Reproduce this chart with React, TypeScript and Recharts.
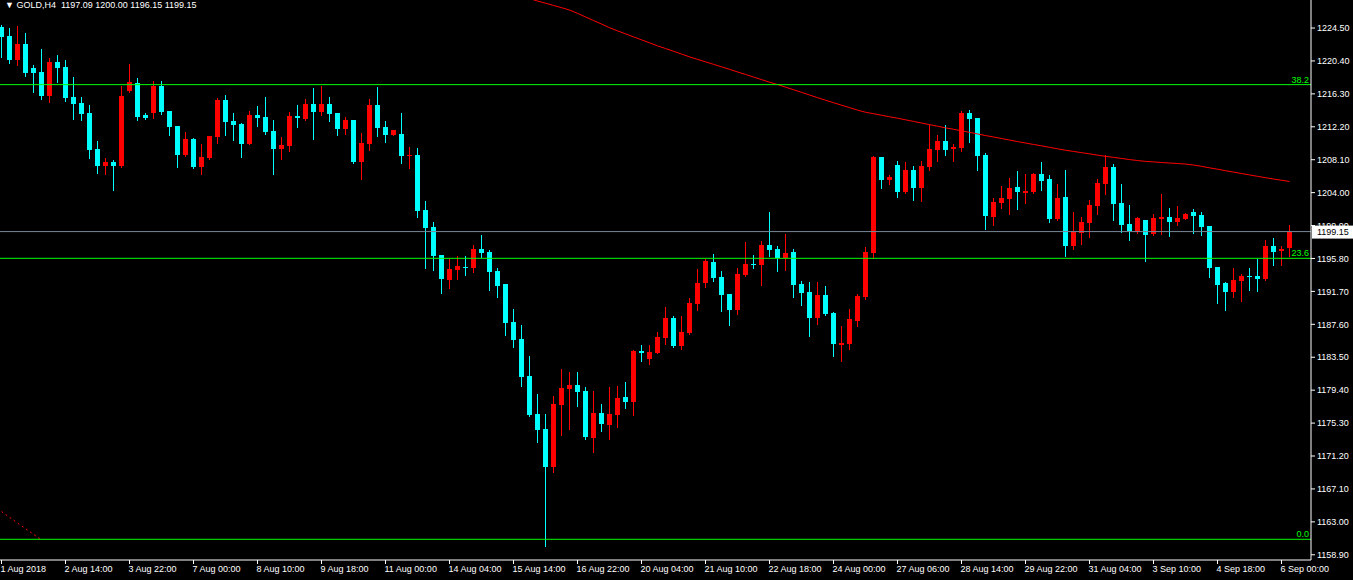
import React from 'react';
import { ComposedChart, Bar, Line, XAxis, YAxis, ReferenceLine } from 'recharts';

// H4 candles, one entry per bar (bar 0 = 1 Aug 2018)
const opens = [
  1224.66, 1223.51, 1220.52, 1222.51, 1219.52, 1219.02, 1216.03, 1220.27, 1219.65, 1215.91,
  1215.16, 1213.92, 1209.43, 1207.35, 1207.81, 1207.35, 1216.70, 1217.65, 1213.67, 1213.95,
  1217.28, 1214.16, 1212.30, 1208.72, 1210.68, 1207.23, 1208.35, 1210.96, 1215.54, 1212.92,
  1212.55, 1210.09, 1213.67, 1213.42, 1211.67, 1209.47, 1209.84, 1213.54, 1213.21, 1215.04,
  1214.08, 1215.04, 1213.92, 1211.96, 1213.05, 1207.85, 1210.09, 1214.91, 1212.17, 1211.21,
  1211.30, 1208.56, 1208.69, 1201.84, 1199.72, 1196.23, 1193.16, 1194.40, 1194.74, 1194.65,
  1196.98, 1196.61, 1194.24, 1192.62, 1187.89, 1185.77, 1181.16, 1176.43, 1174.56, 1169.87,
  1177.59, 1179.58, 1180.04, 1179.30, 1173.48, 1176.56, 1175.10, 1176.35, 1178.55, 1177.96,
  1184.28, 1183.32, 1184.07, 1185.90, 1188.39, 1184.90, 1186.52, 1190.13, 1192.75, 1195.36,
  1193.49, 1191.38, 1189.38, 1193.74, 1195.11, 1194.99, 1197.48, 1196.98, 1195.86, 1196.61,
  1192.62, 1191.62, 1188.39, 1191.25, 1189.01, 1185.06, 1185.15, 1188.01, 1191.00, 1196.52,
  1208.44, 1205.61, 1207.44, 1204.08, 1206.82, 1204.58, 1207.19, 1209.31, 1210.43, 1209.43,
  1209.56, 1213.92, 1213.30, 1208.69, 1201.00, 1202.71, 1203.21, 1204.70, 1203.99, 1204.08,
  1206.32, 1205.70, 1200.71, 1203.45, 1197.35, 1198.97, 1200.22, 1202.34, 1205.11, 1207.19,
  1202.75, 1200.10, 1199.14, 1200.63, 1198.89, 1200.75, 1200.97, 1200.38, 1200.75, 1201.59,
  1201.21, 1199.85, 1194.74, 1192.75, 1191.66, 1193.03, 1193.62, 1193.62, 1193.28, 1197.35,
  1196.69, 1197.09,
];
const highs = [
  1224.88, 1224.50, 1224.75, 1223.88, 1219.89, 1221.89, 1220.77, 1221.14, 1220.52, 1218.40,
  1215.91, 1214.91, 1210.43, 1208.31, 1208.06, 1217.28, 1220.02, 1218.24, 1213.92, 1217.90,
  1217.90, 1214.16, 1212.30, 1211.55, 1210.80, 1210.06, 1211.10, 1215.75, 1216.16, 1213.92,
  1212.67, 1214.16, 1214.79, 1215.91, 1213.04, 1210.93, 1214.04, 1214.91, 1215.66, 1217.03,
  1217.28, 1215.91, 1213.92, 1213.42, 1213.05, 1211.43, 1215.66, 1217.15, 1212.92, 1211.80,
  1213.92, 1209.68, 1209.56, 1202.96, 1200.34, 1196.23, 1195.73, 1196.11, 1196.11, 1197.48,
  1198.72, 1196.85, 1194.61, 1192.62, 1189.51, 1187.51, 1183.65, 1178.92, 1176.43, 1178.67,
  1182.04, 1181.66, 1181.66, 1179.80, 1179.30, 1177.68, 1179.80, 1179.92, 1180.42, 1184.40,
  1185.02, 1185.02, 1186.64, 1189.76, 1188.64, 1188.64, 1190.88, 1194.49, 1195.73, 1196.36,
  1194.24, 1191.38, 1194.61, 1197.85, 1196.23, 1197.98, 1201.59, 1197.35, 1198.85, 1196.98,
  1193.00, 1192.87, 1192.87, 1192.37, 1189.13, 1187.39, 1189.51, 1191.38, 1197.23, 1208.56,
  1208.44, 1206.20, 1207.94, 1207.81, 1207.32, 1207.94, 1212.42, 1211.18, 1212.42, 1210.06,
  1214.16, 1214.29, 1213.30, 1208.94, 1203.33, 1204.83, 1205.82, 1206.69, 1206.32, 1206.44,
  1207.81, 1206.20, 1205.07, 1206.82, 1201.59, 1200.97, 1203.08, 1205.70, 1208.69, 1207.56,
  1205.11, 1202.46, 1200.97, 1200.63, 1201.34, 1203.83, 1202.09, 1202.33, 1201.46, 1201.96,
  1201.59, 1199.85, 1194.74, 1192.87, 1194.61, 1193.87, 1194.61, 1195.77, 1198.10, 1198.35,
  1197.35, 1200.00,
];
const lows = [
  1220.93, 1220.18, 1219.89, 1218.56, 1216.57, 1215.70, 1215.32, 1217.82, 1215.45, 1213.21,
  1213.08, 1208.35, 1206.48, 1206.36, 1204.37, 1207.23, 1216.57, 1213.08, 1213.21, 1213.33,
  1213.83, 1211.21, 1207.23, 1208.60, 1207.10, 1206.36, 1208.22, 1210.22, 1211.21, 1210.59,
  1208.47, 1210.00, 1212.33, 1211.34, 1206.36, 1208.22, 1209.22, 1212.21, 1213.10, 1210.72,
  1213.70, 1212.96, 1211.21, 1211.34, 1207.73, 1205.73, 1209.35, 1211.09, 1210.34, 1211.15,
  1207.73, 1207.10, 1201.00, 1194.65, 1194.40, 1191.54, 1192.16, 1193.28, 1193.78, 1194.15,
  1196.02, 1191.91, 1191.04, 1186.31, 1184.81, 1179.96, 1176.22, 1172.98, 1160.03, 1169.25,
  1173.85, 1174.60, 1177.47, 1173.36, 1171.74, 1174.35, 1173.36, 1174.85, 1177.22, 1176.35,
  1183.07, 1182.70, 1184.00, 1185.15, 1184.78, 1184.53, 1186.39, 1189.38, 1192.25, 1193.03,
  1189.26, 1187.51, 1188.89, 1193.65, 1194.61, 1192.50, 1196.11, 1194.24, 1194.36, 1191.00,
  1190.00, 1186.15, 1187.64, 1188.76, 1183.65, 1183.03, 1184.53, 1187.39, 1190.75, 1195.82,
  1204.58, 1205.11, 1203.49, 1203.95, 1203.12, 1203.00, 1206.82, 1207.94, 1208.69, 1207.94,
  1209.19, 1210.30, 1206.82, 1199.47, 1199.97, 1202.09, 1201.34, 1201.96, 1202.71, 1204.00,
  1204.33, 1200.34, 1200.59, 1196.11, 1196.98, 1197.60, 1198.47, 1201.34, 1203.87, 1200.63,
  1199.13, 1198.14, 1199.01, 1195.52, 1198.76, 1198.89, 1198.64, 1200.01, 1200.70, 1199.01,
  1198.76, 1193.53, 1190.29, 1189.38, 1191.04, 1190.54, 1191.91, 1191.79, 1193.16, 1195.03,
  1195.03, 1196.15,
];
const closes = [
  1223.42, 1220.52, 1222.51, 1218.94, 1218.94, 1216.03, 1220.27, 1219.56, 1215.82, 1215.07,
  1213.83, 1209.35, 1207.35, 1207.81, 1207.35, 1216.03, 1217.78, 1213.46, 1213.33, 1217.28,
  1214.08, 1212.21, 1208.72, 1210.68, 1207.23, 1208.44, 1211.05, 1215.54, 1212.83, 1212.46,
  1210.09, 1213.67, 1213.33, 1211.59, 1209.47, 1209.93, 1213.54, 1213.33, 1215.04, 1214.08,
  1215.04, 1213.83, 1211.96, 1213.05, 1207.85, 1210.18, 1214.91, 1212.08, 1211.21, 1211.80,
  1208.60, 1208.69, 1201.75, 1199.63, 1196.15, 1193.28, 1194.49, 1194.86, 1194.61, 1196.98,
  1196.52, 1194.15, 1192.41, 1187.80, 1185.69, 1181.08, 1176.35, 1174.48, 1169.87, 1177.72,
  1179.71, 1180.04, 1179.21, 1173.61, 1176.56, 1175.22, 1176.43, 1178.42, 1177.96, 1184.28,
  1184.07, 1184.16, 1186.02, 1188.39, 1184.90, 1186.64, 1190.26, 1192.75, 1195.49, 1193.41,
  1191.25, 1189.38, 1193.87, 1195.11, 1195.02, 1197.48, 1196.85, 1195.86, 1196.48, 1192.50,
  1191.50, 1188.39, 1191.25, 1188.89, 1185.15, 1185.27, 1188.26, 1191.13, 1196.61, 1208.44,
  1205.57, 1205.99, 1204.08, 1206.82, 1204.58, 1207.32, 1209.43, 1210.43, 1209.31, 1209.68,
  1213.92, 1213.17, 1208.56, 1201.09, 1202.83, 1203.33, 1204.58, 1204.08, 1204.20, 1206.32,
  1205.45, 1200.71, 1203.33, 1197.35, 1199.10, 1200.34, 1202.46, 1205.20, 1207.19, 1202.62,
  1200.01, 1199.26, 1200.84, 1198.76, 1200.84, 1200.97, 1200.38, 1200.84, 1201.34, 1201.13,
  1199.76, 1194.65, 1192.54, 1191.66, 1193.12, 1193.62, 1193.49, 1193.28, 1197.35, 1196.64,
  1196.98, 1199.15,
];

// moving average, visible from bar 66 onwards
const maFrom = 66;
const maValues = [
  1228.17, 1227.86, 1227.59, 1227.31, 1227.04, 1226.74, 1226.33, 1225.88, 1225.43, 1225.00,
  1224.54, 1224.15, 1223.78, 1223.40, 1223.03, 1222.66, 1222.28, 1221.95, 1221.61, 1221.26,
  1220.91, 1220.60, 1220.29, 1219.98, 1219.67, 1219.36, 1219.03, 1218.72, 1218.40, 1218.08,
  1217.75, 1217.46, 1217.14, 1216.82, 1216.49, 1216.16, 1215.83, 1215.51, 1215.20, 1214.89,
  1214.59, 1214.28, 1214.01, 1213.83, 1213.64, 1213.45, 1213.27, 1213.07, 1212.87, 1212.67,
  1212.47, 1212.27, 1212.07, 1211.89, 1211.70, 1211.51, 1211.31, 1211.11, 1210.93, 1210.74,
  1210.55, 1210.36, 1210.18, 1210.00, 1209.83, 1209.64, 1209.46, 1209.28, 1209.13, 1208.98,
  1208.83, 1208.67, 1208.52, 1208.39, 1208.26, 1208.12, 1208.00, 1207.89, 1207.83, 1207.75,
  1207.69, 1207.63, 1207.56, 1207.44, 1207.28, 1207.09, 1206.92, 1206.73, 1206.56, 1206.38,
  1206.21, 1206.03, 1205.86, 1205.70, 1205.54, 1205.39,
];

// dotted trend segment at the bottom left
const trendValues = [1164.28, 1163.57, 1162.86, 1162.16, 1161.45, 1160.76];

const dateTickBars = [0, 8, 16, 24, 32, 40, 48, 56, 64, 72, 80, 88, 96, 104, 112, 120, 128, 136, 144, 152, 160];
const dateLabels = [
  '1 Aug 2018', '2 Aug 14:00', '3 Aug 22:00', '7 Aug 00:00', '8 Aug 10:00', '9 Aug 18:00',
  '11 Aug 00:00', '14 Aug 04:00', '15 Aug 14:00', '16 Aug 22:00', '20 Aug 04:00', '21 Aug 10:00',
  '22 Aug 18:00', '24 Aug 00:00', '27 Aug 06:00', '28 Aug 14:00', '29 Aug 22:00', '31 Aug 04:00',
  '3 Sep 10:00', '4 Sep 18:00', '6 Sep 00:00',
];

const priceTicks = [
  1224.5, 1220.4, 1216.3, 1212.2, 1208.1, 1204.0, 1199.9, 1195.8, 1191.7,
  1187.6, 1183.5, 1179.4, 1175.3, 1171.2, 1167.1, 1163.0, 1158.9,
];

const fibNames = ['38.2', '23.6', '0.0'];
const fibPrices = [1217.45, 1195.82, 1160.83];
const lastPrice = 1199.15;

const data = opens.map((o, i) => ({
  i,
  o,
  h: highs[i],
  l: lows[i],
  c: closes[i],
  ma: i >= maFrom ? maValues[i - maFrom] : null,
  trend: i < trendValues.length ? trendValues[i] : null,
}));

const FONT = "'Liberation Sans', Arial, sans-serif";
const UP = '#ff0000';
const DOWN = '#00ffff';
const FIB = '#00ff00';

function Candle(props: any) {
  const { x, y, width, height, payload } = props;
  if (x == null || y == null || !payload) return null;
  const { o, h, l, c } = payload;
  const top = Math.min(y, y + height);
  const span = Math.abs(height);
  const toY = (v: number) => (h === l ? top : top + ((h - v) / (h - l)) * span);
  const color = c >= o ? UP : DOWN;
  const cx = Math.floor(x + width / 2) + 0.5;
  const bodyTop = Math.round(toY(Math.max(o, c)));
  const bodyBot = Math.round(toY(Math.min(o, c)));
  return (
    <g>
      <line x1={cx} x2={cx} y1={Math.round(top)} y2={Math.round(top + span) + 1} stroke={color} strokeWidth={1} shapeRendering="crispEdges" />
      <rect x={cx - 2.5} y={bodyTop} width={5} height={Math.max(1, bodyBot - bodyTop)} fill={color} shapeRendering="crispEdges" />
    </g>
  );
}

function DateTick(props: any) {
  const { x, y, payload } = props;
  const k = dateTickBars.indexOf(payload.value);
  return (
    <text x={x - 1} y={y} dy="0.71em" fill="#fff" fontSize={9} fontFamily={FONT} textAnchor="start">
      {dateLabels[k]}
    </text>
  );
}

function PriceTag(props: any) {
  const { viewBox } = props;
  if (!viewBox) return null;
  const right = viewBox.x + viewBox.width;
  return (
    <g>
      <rect x={right + 1} y={viewBox.y - 6} width={42} height={13} fill="#fff" />
      <text x={right + 6} y={viewBox.y} dy="0.35em" fill="#000" fontSize={9} fontFamily={FONT}>
        {lastPrice.toFixed(2)}
      </text>
    </g>
  );
}

export default function App() {
  return (
    <div style={{ position: 'absolute', left: 0, top: 0, width: 1353, height: 580, background: '#000', overflow: 'hidden' }}>
      <ComposedChart width={1353} height={580} data={data} margin={{ top: 0, right: 0, bottom: 0, left: 0 }}>
        <XAxis
          dataKey="i"
          type="number"
          domain={[-0.1875, 163.6875]}
          allowDataOverflow
          ticks={dateTickBars}
          interval={0}
          height={20}
          tickSize={4}
          tickMargin={2}
          axisLine={{ stroke: '#fff' }}
          tickLine={{ stroke: '#fff' }}
          tick={<DateTick />}
        />
        <YAxis
          orientation="right"
          type="number"
          domain={[1158.25, 1227.99]}
          allowDataOverflow
          ticks={priceTicks}
          interval={0}
          width={42}
          tickSize={4}
          tickMargin={2}
          axisLine={{ stroke: '#fff' }}
          tickLine={{ stroke: '#fff' }}
          tick={{ fill: '#fff', fontSize: 9, fontFamily: FONT }}
          tickFormatter={(v: number) => v.toFixed(2)}
        />
        <Bar
          dataKey={(d: any) => [d.l, d.h]}
          barSize={5}
          shape={(p: any) => <Candle {...p} />}
          isAnimationActive={false}
        />
        <Line dataKey="ma" stroke="#ff0000" strokeWidth={1} dot={false} activeDot={false} isAnimationActive={false} />
        <Line dataKey="trend" stroke="#ff0000" strokeWidth={1} strokeDasharray="2 3" dot={false} activeDot={false} isAnimationActive={false} />
        {fibPrices.map((p, k) => (
          <ReferenceLine
            key={fibNames[k]}
            y={p}
            stroke={FIB}
            strokeWidth={1}
            label={{ value: fibNames[k], position: 'insideBottomRight', offset: 2, fill: FIB, fontSize: 9, fontFamily: FONT }}
          />
        ))}
        <ReferenceLine y={lastPrice} stroke="#778899" strokeWidth={1} label={<PriceTag />} />
      </ComposedChart>
      <div
        style={{
          position: 'absolute',
          left: 5,
          top: 0,
          color: '#fff',
          fontFamily: FONT,
          fontSize: 9,
          lineHeight: '11px',
          whiteSpace: 'pre',
        }}
      >
        {'\u25BC GOLD,H4  1197.09 1200.00 1196.15 1199.15'}
      </div>
    </div>
  );
}
